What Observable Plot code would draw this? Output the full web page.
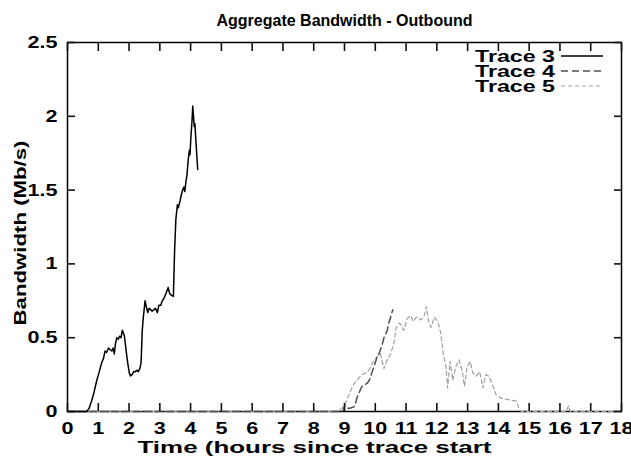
<!DOCTYPE html>
<html>
<head>
<meta charset="utf-8">
<script src="https://cdn.jsdelivr.net/npm/d3@7"></script>
<script src="https://cdn.jsdelivr.net/npm/@observablehq/plot@0.6"></script>
<style>
  html, body { margin: 0; padding: 0; background: #fff; }
  svg { display: block; }
</style>
</head>
<body>
<script>
const title = "Aggregate Bandwidth - Outbound";
const xLabel = "Time (hours since trace start";
const yLabel = "Bandwidth (Mb/s)";
const xTicks = [0,1,2,3,4,5,6,7,8,9,10,11,12,13,14,15,16,17,18];
const yTicks = [0,0.5,1,1.5,2,2.5];
const seriesNames = ["Trace 3", "Trace 4", "Trace 5"];
const seriesColors = ["#000000", "#505050", "#a0a0a0"];
const seriesDash = [null, "7,4", "4,3"];

const t3Hours = [0,0.62,0.70,0.78,0.85,0.95,1.02,1.11,1.17,1.22,1.27,1.33,1.38,1.44,1.48,1.52,1.56,1.60,1.65,1.69,1.74,1.78,1.82,1.85,1.89,1.93,1.97,2.01,2.05,2.10,2.15,2.20,2.25,2.30,2.35,2.39,2.43,2.46,2.52,2.56,2.61,2.65,2.70,2.75,2.81,2.86,2.92,2.97,3.03,3.08,3.14,3.20,3.27,3.32,3.36,3.44,3.48,3.52,3.57,3.60,3.66,3.70,3.74,3.78,3.81,3.85,3.88,3.92,3.96,3.98,4.01,4.04,4.07,4.10,4.12,4.14,4.17,4.23];
const t3Values = [0,0,0.02,0.07,0.12,0.21,0.26,0.33,0.36,0.41,0.40,0.43,0.42,0.41,0.43,0.39,0.46,0.50,0.49,0.51,0.50,0.55,0.53,0.51,0.44,0.37,0.31,0.26,0.24,0.25,0.27,0.27,0.28,0.27,0.29,0.33,0.55,0.63,0.75,0.71,0.67,0.70,0.69,0.68,0.69,0.70,0.67,0.72,0.72,0.75,0.77,0.80,0.84,0.80,0.79,0.78,1.09,1.30,1.40,1.38,1.43,1.47,1.50,1.52,1.49,1.56,1.60,1.70,1.77,1.74,1.86,1.95,2.07,1.98,1.93,1.95,1.84,1.64];

const t4Hours = [0,8.90,8.96,9.02,9.08,9.13,9.22,9.30,9.35,9.40,9.46,9.52,9.57,9.65,9.73,9.80,9.84,9.90,9.95,10.00,10.06,10.12,10.17,10.22,10.28,10.33,10.39,10.44,10.50,10.57];
const t4Values = [0,0,0.01,0.045,0.03,0.02,0.025,0.03,0.045,0.09,0.12,0.15,0.17,0.18,0.19,0.21,0.23,0.27,0.30,0.33,0.37,0.39,0.42,0.45,0.50,0.52,0.55,0.60,0.64,0.69];

const t5Hours = [0,8.69,8.80,8.91,9.00,9.08,9.16,9.24,9.32,9.40,9.48,9.57,9.68,9.79,9.87,9.95,10.06,10.17,10.28,10.39,10.50,10.60,10.68,10.79,10.93,11.04,11.15,11.23,11.34,11.48,11.59,11.66,11.73,11.81,11.92,12.03,12.13,12.21,12.30,12.35,12.43,12.52,12.61,12.72,12.82,12.90,12.98,13.08,13.17,13.28,13.39,13.50,13.59,13.69,13.83,13.93,14.10,14.32,14.59,14.68,14.75,16.20,16.28,16.33,18];
const t5Values = [0,0,0.01,0.02,0.05,0.08,0.12,0.16,0.19,0.21,0.23,0.25,0.26,0.28,0.31,0.34,0.37,0.39,0.29,0.35,0.39,0.46,0.57,0.60,0.55,0.63,0.65,0.61,0.64,0.62,0.65,0.71,0.61,0.57,0.64,0.61,0.53,0.39,0.30,0.16,0.34,0.21,0.30,0.35,0.28,0.17,0.30,0.34,0.26,0.24,0.27,0.16,0.25,0.24,0.17,0.11,0.09,0.08,0.07,0.01,0,0,0.04,0,0];

const toRows = (hs, vs, name) => hs.map((h, i) => ({hour: h, value: vs[i], series: name}));
const trace3 = toRows(t3Hours, t3Values, seriesNames[0]);
const trace4 = toRows(t4Hours, t4Values, seriesNames[1]);
const trace5 = toRows(t5Hours, t5Values, seriesNames[2]);

const font = "'Liberation Sans', Arial, Helvetica, sans-serif";
const tickLen = 8;
const tickColor = "#111111";
const noText = () => "";

const chart = Plot.plot({
  width: 631,
  height: 457,
  marginLeft: 67,
  marginRight: 10,
  marginTop: 42,
  marginBottom: 46,
  style: {fontFamily: font, fontSize: "17px", fontWeight: "bold", background: "#fff", color: "#000", overflow: "visible"},
  x: {domain: [0, 18]},
  y: {domain: [0, 2.5]},
  marks: [
    Plot.frame({stroke: "#000", strokeWidth: 1.5}),
    Plot.axisX({ticks: xTicks, anchor: "bottom", tickSize: 0, tickPadding: 10, tickFormat: d => String(d), label: null, fontSize: 17}),
    Plot.axisY({ticks: yTicks, anchor: "left", tickSize: 0, tickPadding: 10, tickFormat: d => String(d), label: null, fontSize: 17}),
    Plot.text([title], {frameAnchor: "top", lineAnchor: "middle", dy: -22, fontSize: 16, fontWeight: "bold"}),
    Plot.text([xLabel], {frameAnchor: "bottom", lineAnchor: "middle", textAnchor: "middle", dy: 36, dx: -30, fontSize: 17, fontWeight: "bold"}),
    Plot.text([yLabel], {frameAnchor: "left", lineAnchor: "middle", textAnchor: "middle", dx: -47, dy: 6, rotate: -90, fontSize: 17, fontWeight: "bold"}),
    Plot.line(trace5, {x: "hour", y: "value", stroke: seriesColors[2], strokeWidth: 1.2, strokeDasharray: seriesDash[2]}),
    Plot.line(trace4, {x: "hour", y: "value", stroke: seriesColors[1], strokeWidth: 1.5, strokeDasharray: seriesDash[1]}),
    Plot.line(trace3, {x: "hour", y: "value", stroke: seriesColors[0], strokeWidth: 1.5}),
    // inward tick marks on all four sides (gnuplot style)
    Plot.axisX({ticks: xTicks, anchor: "top", tickSize: tickLen, dy: tickLen, tickFormat: noText, label: null, stroke: tickColor, strokeWidth: 1.6}),
    Plot.axisX({ticks: xTicks, anchor: "bottom", tickSize: tickLen, dy: -tickLen, tickFormat: noText, label: null, stroke: tickColor, strokeWidth: 1.6}),
    Plot.axisY({ticks: yTicks, anchor: "left", tickSize: tickLen, dx: tickLen, tickFormat: noText, label: null, stroke: tickColor, strokeWidth: 1.6}),
    Plot.axisY({ticks: yTicks, anchor: "right", tickSize: tickLen, dx: -tickLen, tickFormat: noText, label: null, stroke: tickColor, strokeWidth: 1.6})
  ]
});
document.body.appendChild(chart);

const svg = d3.select(chart);

// horizontally stretched lettering, as in the original rendering
const stretch = 1.27;
const tickLabelSet = new Set([...xTicks, ...yTicks].map(String));
svg.selectAll("text").each(function() {
  const s = this.textContent;
  let target = null;
  if (s === xLabel) target = 354;
  else if (s === yLabel) target = 185;
  else if (tickLabelSet.has(s)) {
    const len = this.getComputedTextLength();
    if (len > 0) target = len * stretch;
  }
  if (target) {
    this.setAttribute("textLength", target.toFixed(1));
    this.setAttribute("lengthAdjust", "spacingAndGlyphs");
  }
});

// legend (top right, inside the frame)
const legend = svg.append("g").attr("font-family", font).attr("font-weight", "bold").attr("font-size", 17);
seriesNames.forEach((name, i) => {
  const yRow = 56 + i * 15;
  legend.append("text")
    .attr("x", 555).attr("y", yRow).attr("dy", "0.36em")
    .attr("text-anchor", "end")
    .attr("textLength", 80).attr("lengthAdjust", "spacingAndGlyphs")
    .attr("fill", "#000")
    .text(name);
  legend.append("line")
    .attr("x1", 561).attr("x2", 603).attr("y1", yRow).attr("y2", yRow)
    .attr("stroke", seriesColors[i])
    .attr("stroke-width", i === 2 ? 1.2 : 1.5)
    .attr("stroke-dasharray", seriesDash[i]);
});
</script>
</body>
</html>
